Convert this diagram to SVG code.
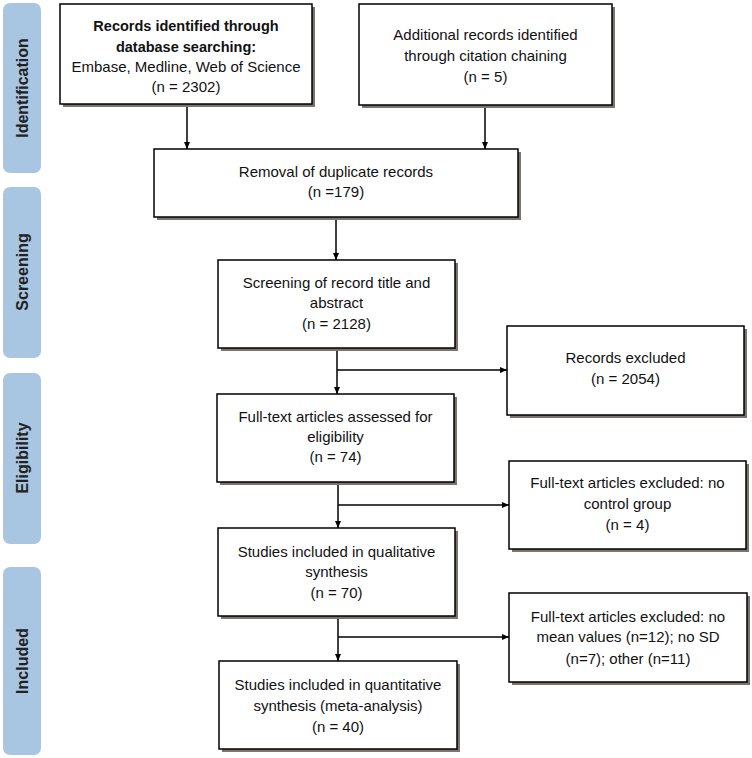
<svg xmlns="http://www.w3.org/2000/svg" width="752" height="758" viewBox="0 0 752 758">
<style>
.bar{fill:#a8c6e1}
.bl{font-family:"Liberation Sans",Arial,sans-serif;font-weight:bold;font-size:16px;fill:#222;text-anchor:middle}
.sh{fill:#7a7570}
.bx{fill:#fff;stroke:#000;stroke-width:1.5}
.t{font-family:"Liberation Sans",Arial,sans-serif;font-size:15px;fill:#111;text-anchor:middle}
.b{font-weight:bold;font-size:14.5px}
.ln{stroke:#000;stroke-width:1.5;fill:none}
</style>
<defs>
<marker id="ah" markerWidth="8" markerHeight="6" refX="7" refY="3" orient="auto" markerUnits="userSpaceOnUse">
<path d="M0,0 L7,3 L0,6 Z" fill="#000"/>
</marker>
</defs>
<rect width="752" height="758" fill="#fff"/>
<g id="phase-identification"><rect class="bar" x="3" y="3" width="38" height="170" rx="7"/><text class="bl" transform="translate(28,88) rotate(-90)">Identification</text></g>
<g id="phase-screening"><rect class="bar" x="3" y="187" width="38" height="171" rx="7"/><text class="bl" transform="translate(28,272) rotate(-90)">Screening</text></g>
<g id="phase-eligibility"><rect class="bar" x="3" y="373" width="38" height="171" rx="7"/><text class="bl" transform="translate(28,458) rotate(-90)">Eligibility</text></g>
<g id="phase-included"><rect class="bar" x="3" y="567" width="38" height="188" rx="7"/><text class="bl" transform="translate(28,661) rotate(-90)">Included</text></g>

<g id="connectors">
<line class="ln" x1="187" y1="104" x2="187" y2="149" marker-end="url(#ah)"/>
<line class="ln" x1="485" y1="105" x2="485" y2="149" marker-end="url(#ah)"/>
<line class="ln" x1="336" y1="217" x2="336" y2="260" marker-end="url(#ah)"/>
<line class="ln" x1="337" y1="348" x2="337" y2="394" marker-end="url(#ah)"/>
<line class="ln" x1="337" y1="370" x2="507" y2="370" marker-end="url(#ah)"/>
<line class="ln" x1="338" y1="482" x2="338" y2="528" marker-end="url(#ah)"/>
<line class="ln" x1="338" y1="505" x2="509" y2="505" marker-end="url(#ah)"/>
<line class="ln" x1="338" y1="616" x2="338" y2="661" marker-end="url(#ah)"/>
<line class="ln" x1="338" y1="637" x2="509" y2="637" marker-end="url(#ah)"/>
</g>

<g id="n-database">
<rect class="sh" x="63" y="7" width="252" height="100"/>
<rect class="bx" x="60" y="4" width="252" height="100"/>
<text class="t b" x="186" y="31">Records identified through</text>
<text class="t b" x="186" y="51.5">database searching:</text>
<text class="t" x="186" y="72">Embase, Medline, Web of Science</text>
<text class="t" x="186" y="92">(n = 2302)</text>
</g>
<g id="n-citation">
<rect class="sh" x="362" y="7" width="253" height="101"/>
<rect class="bx" x="359" y="4" width="253" height="101"/>
<text class="t" x="485.5" y="40">Additional records identified</text>
<text class="t" x="485.5" y="61">through citation chaining</text>
<text class="t" x="485.5" y="82">(n = 5)</text>
</g>
<g id="n-duplicates">
<rect class="sh" x="157" y="152" width="364" height="68"/>
<rect class="bx" x="154" y="149" width="364" height="68"/>
<text class="t" x="336" y="177">Removal of duplicate records</text>
<text class="t" x="336" y="197">(n =179)</text>
</g>
<g id="n-screening">
<rect class="sh" x="221" y="263" width="237" height="88"/>
<rect class="bx" x="218" y="260" width="237" height="88"/>
<text class="t" x="336.5" y="288">Screening of record title and</text>
<text class="t" x="336.5" y="308">abstract</text>
<text class="t" x="336.5" y="329">(n = 2128)</text>
</g>
<g id="n-excluded1">
<rect class="sh" x="510" y="329" width="237" height="89"/>
<rect class="bx" x="507" y="326" width="237" height="89"/>
<text class="t" x="625.5" y="363">Records excluded</text>
<text class="t" x="625.5" y="384">(n = 2054)</text>
</g>
<g id="n-fulltext">
<rect class="sh" x="220" y="397" width="237" height="88"/>
<rect class="bx" x="217" y="394" width="237" height="88"/>
<text class="t" x="335.5" y="422">Full-text articles assessed for</text>
<text class="t" x="335.5" y="442">eligibility</text>
<text class="t" x="335.5" y="462">(n = 74)</text>
</g>
<g id="n-excluded2">
<rect class="sh" x="512" y="464" width="237" height="88"/>
<rect class="bx" x="509" y="461" width="237" height="88"/>
<text class="t" x="627.5" y="488">Full-text articles excluded: no</text>
<text class="t" x="627.5" y="509">control group</text>
<text class="t" x="627.5" y="530">(n = 4)</text>
</g>
<g id="n-qualitative">
<rect class="sh" x="221" y="531" width="237" height="88"/>
<rect class="bx" x="218" y="528" width="237" height="88"/>
<text class="t" x="336.5" y="557">Studies included in qualitative</text>
<text class="t" x="336.5" y="577">synthesis</text>
<text class="t" x="336.5" y="598">(n = 70)</text>
</g>
<g id="n-excluded3">
<rect class="sh" x="512" y="596" width="238" height="89"/>
<rect class="bx" x="509" y="593" width="238" height="89"/>
<text class="t" x="628" y="622">Full-text articles excluded: no</text>
<text class="t" x="628" y="642">mean values (n=12); no SD</text>
<text class="t" x="628" y="664">(n=7); other (n=11)</text>
</g>
<g id="n-quantitative">
<rect class="sh" x="222" y="664" width="238" height="88"/>
<rect class="bx" x="219" y="661" width="238" height="88"/>
<text class="t" x="338" y="690">Studies included in quantitative</text>
<text class="t" x="338" y="711">synthesis (meta-analysis)</text>
<text class="t" x="338" y="732">(n = 40)</text>
</g>
</svg>
